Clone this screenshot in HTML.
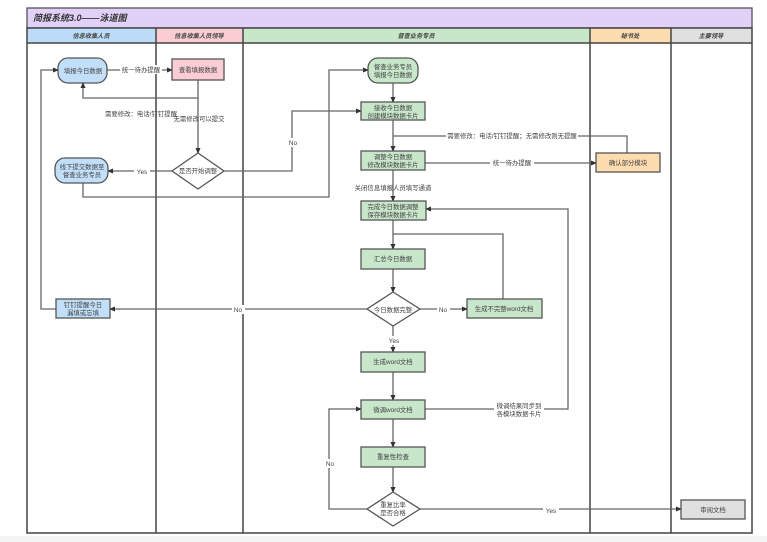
<!DOCTYPE html>
<html><head><meta charset="utf-8"><style>
html,body{margin:0;padding:0;background:#fff}
svg{display:block}
text{font-family:"Liberation Sans","Noto Sans CJK SC",sans-serif;font-size:6.4px;fill:#444}
.n{stroke:#555;stroke-width:1.3}
.l{stroke:#666;stroke-width:1.3;fill:none}
.lane{stroke:#444;stroke-width:1.5}
</style></head><body>
<svg width="767" height="542" viewBox="0 0 767 542" xmlns="http://www.w3.org/2000/svg">
<defs><marker id="a" markerWidth="6" markerHeight="6" refX="5" refY="3" orient="auto" markerUnits="userSpaceOnUse"><path d="M0,0.5 L6,3 L0,5.5z" fill="#333"/></marker></defs>
<rect x="0" y="536" width="767" height="6" fill="#f4f4f4"/>
<rect x="27" y="8" width="725" height="20" fill="#e1d0f7" stroke="#555" stroke-width="1.3"/>
<text x="33" y="21" style="font-size:9px;font-style:italic;font-weight:bold;fill:#333">简报系统3.0——泳道图</text>
<rect x="27" y="28" width="129" height="15" fill="#bcdcf7"/>
<rect x="156" y="28" width="87" height="15" fill="#f9cdd3"/>
<rect x="243" y="28" width="347" height="15" fill="#c8e6c9"/>
<rect x="590" y="28" width="81" height="15" fill="#fddcb0"/>
<rect x="671" y="28" width="81" height="15" fill="#e0e0e0"/>
<g style="font-style:italic;font-weight:bold" text-anchor="middle">
<text x="91" y="38" style="font-size:6.2px">信息收集人员</text>
<text x="199" y="38" style="font-size:6.2px">信息收集人员领导</text>
<text x="416" y="38" style="font-size:6.2px">督查业务专员</text>
<text x="630" y="38" style="font-size:6.2px">秘书处</text>
<text x="711" y="38" style="font-size:6.2px">主要领导</text>
</g>
<line class="lane" x1="27" y1="43" x2="752" y2="43"/>
<rect x="27" y="28" width="725" height="505" fill="none" stroke="#444" stroke-width="1.5"/>
<line class="lane" x1="156" y1="28" x2="156" y2="533"/>
<line class="lane" x1="243" y1="28" x2="243" y2="533"/>
<line class="lane" x1="590" y1="28" x2="590" y2="533"/>
<line class="lane" x1="671" y1="28" x2="671" y2="533"/>

<path class="l" d="M107,70 H172" marker-end="url(#a)"/>
<path class="l" d="M198,80 V98 H83 V83" marker-end="url(#a)"/>
<path class="l" d="M198,98 V153" marker-end="url(#a)"/>
<path class="l" d="M172,171 H108" marker-end="url(#a)"/>
<path class="l" d="M224,171 H292 V111 H361" marker-end="url(#a)"/>
<path class="l" d="M83,183 V197 H329 V70 H368" marker-end="url(#a)"/>
<path class="l" d="M56,309 H41 V70 H58" marker-end="url(#a)"/>
<path class="l" d="M393,83 V102" marker-end="url(#a)"/>
<path class="l" d="M393,120 V151" marker-end="url(#a)"/>
<path class="l" d="M627,153 V136 H393"/>
<path class="l" d="M425,163 H596" marker-end="url(#a)"/>
<path class="l" d="M393,170 V201" marker-end="url(#a)"/>
<path class="l" d="M393,220 V249" marker-end="url(#a)"/>
<path class="l" d="M503,299 V234 H393"/>
<path class="l" d="M393,269 V292" marker-end="url(#a)"/>
<path class="l" d="M420,309 H467" marker-end="url(#a)"/>
<path class="l" d="M367,309 H110" marker-end="url(#a)"/>
<path class="l" d="M393,326 V352" marker-end="url(#a)"/>
<path class="l" d="M393,372 V400" marker-end="url(#a)"/>
<path class="l" d="M425,409 H568 V209 H426" marker-end="url(#a)"/>
<path class="l" d="M393,419 V447" marker-end="url(#a)"/>
<path class="l" d="M393,467 V492" marker-end="url(#a)"/>
<path class="l" d="M367,509 H329 V409 H361" marker-end="url(#a)"/>
<path class="l" d="M420,509 H681" marker-end="url(#a)"/>

<g text-anchor="middle">
<rect x="120" y="65" width="42" height="9" fill="#fff"/><text x="141" y="72">统一待办提醒</text>
<text x="141" y="116">需要修改：电话/钉钉提醒</text>
<text x="199" y="121">无需修改可以提交</text>
<rect x="134" y="167" width="16" height="9" fill="#fff"/><text x="142" y="174">Yes</text>
<rect x="286" y="138" width="14" height="9" fill="#fff"/><text x="293" y="145">No</text>
<rect x="446" y="131" width="132" height="9" fill="#fff"/><text x="512" y="138">需要修改：电话/钉钉提醒；无需修改则无提醒</text>
<rect x="490" y="158" width="44" height="9" fill="#fff"/><text x="512" y="165">统一待办提醒</text>
<text x="393" y="190">关闭信息填报人员填写通道</text>
<rect x="232" y="305" width="13" height="9" fill="#fff"/><text x="238" y="312">No</text>
<rect x="437" y="305" width="13" height="9" fill="#fff"/><text x="443" y="312">No</text>
<rect x="386" y="336" width="16" height="9" fill="#fff"/><text x="394" y="343">Yes</text>
<rect x="494" y="401" width="50" height="18" fill="#fff"/><text x="519" y="408">微调结果同步到</text><text x="519" y="416">各模块数据卡片</text>
<rect x="323" y="459" width="14" height="9" fill="#fff"/><text x="330" y="466">No</text>
<rect x="543" y="506" width="16" height="9" fill="#fff"/><text x="551" y="513">Yes</text>
</g>

<rect class="n" x="58" y="58" width="49" height="25" rx="10" fill="#c2dffa"/>
<rect class="n" x="172" y="59" width="52" height="21" fill="#f9cdd3"/>
<path class="n" d="M198,153 L224,171 L198,189 L172,171z" fill="#fff"/>
<rect class="n" x="55" y="158" width="53" height="25" rx="10" fill="#c2dffa"/>
<rect class="n" x="56" y="299" width="54" height="19" fill="#c2dffa"/>
<rect class="n" x="368" y="58" width="50" height="25" rx="10" fill="#c8e6c9"/>
<rect class="n" x="361" y="102" width="64" height="18" fill="#c8e6c9"/>
<rect class="n" x="361" y="151" width="64" height="19" fill="#c8e6c9"/>
<rect class="n" x="596" y="153" width="64" height="19" fill="#fddcb0"/>
<rect class="n" x="361" y="201" width="65" height="19" fill="#c8e6c9"/>
<rect class="n" x="361" y="249" width="64" height="20" fill="#c8e6c9"/>
<path class="n" d="M393,292 L420,309 L393,326 L367,309z" fill="#fff"/>
<rect class="n" x="467" y="299" width="75" height="19" fill="#c8e6c9"/>
<rect class="n" x="361" y="352" width="64" height="20" fill="#c8e6c9"/>
<rect class="n" x="361" y="400" width="64" height="19" fill="#c8e6c9"/>
<rect class="n" x="361" y="447" width="64" height="20" fill="#c8e6c9"/>
<path class="n" d="M393,492 L420,509 L393,526 L367,509z" fill="#fff"/>
<rect class="n" x="681" y="500" width="64" height="19" fill="#e0e0e0"/>

<g text-anchor="middle">
<text x="83" y="73">填报今日数据</text>
<text x="198" y="72">查看填报数据</text>
<text x="198" y="173">是否开始调整</text>
<text x="82" y="169">线下提交数据至</text><text x="82" y="177">督查业务专员</text>
<text x="83" y="307">钉钉提醒今日</text><text x="83" y="315">漏填或忘填</text>
<text x="393" y="69">督查业务专员</text><text x="393" y="77">填报今日数据</text>
<text x="393" y="110">接收今日数据</text><text x="393" y="118">创建模块数据卡片</text>
<text x="393" y="159">调整今日数据</text><text x="393" y="167">修改模块数据卡片</text>
<text x="628" y="165">确认部分模块</text>
<text x="393" y="209">完成今日数据调整</text><text x="393" y="217">保存模块数据卡片</text>
<text x="393" y="261">汇总今日数据</text>
<text x="393" y="312">今日数据完整</text>
<text x="504" y="311">生成不完整word文档</text>
<text x="393" y="364">生成word文档</text>
<text x="393" y="412">微调word文档</text>
<text x="393" y="459">重复性检查</text>
<text x="393" y="507">重复比率</text><text x="393" y="515">是否合格</text>
<text x="713" y="512">审阅文档</text>
</g>
</svg>
</body></html>
